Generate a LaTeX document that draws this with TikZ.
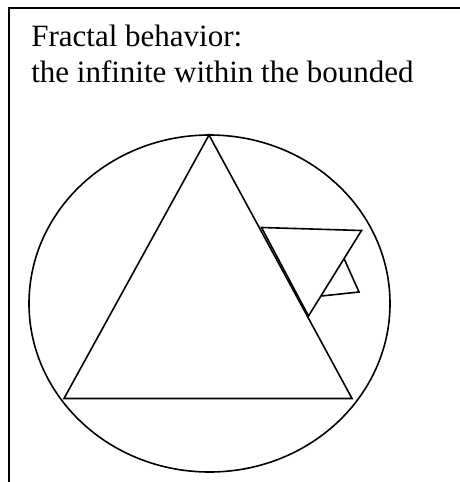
\documentclass[tikz,border=0pt]{standalone}
\usepackage{fontspec}
\setmainfont{Liberation Serif}
\usetikzlibrary{positioning}

\begin{document}
\begin{tikzpicture}[
    x=1pt, y=-1pt,
    line width=1.6pt,
    frame/.style={draw=black, line width=2pt},
    outline/.style={draw=black, line join=miter},
    caption/.style={anchor=base west, inner sep=0pt, font=\fontsize{31}{36}\selectfont, align=left}
]
\useasboundingbox (0,0) rectangle (459,482);

% frame, cut off at the right and bottom
\draw[frame] (9,483) -- (9,8) -- (460,8);

\node[caption] (title) at (30.5,46) {Fractal behavior:};
\node[caption] (subtitle) at (30.5,82) {the infinite within the bounded};

% bounding ellipse
\draw[outline] (209.5,303.5) ellipse [x radius=180.5, y radius=168.5];

% big triangle
\coordinate (apex) at (209,135);
\coordinate (bl) at (64,398.5);
\coordinate (br) at (352,398.5);
\draw[outline] (apex) -- (bl) -- (br) -- cycle;

% second generation
\coordinate (sa) at (261.5,227.5);
\coordinate (sb) at (361.5,230.5);
\coordinate (sc) at (308.5,316);
\draw[outline] (sa) -- (sb) -- (sc) -- cycle;

% third generation
\coordinate (ta) at (344,258.5);
\coordinate (tb) at (359,292);
\coordinate (tc) at (321.5,296);
\draw[outline] (ta) -- (tb) -- (tc);
\end{tikzpicture}
\end{document}
